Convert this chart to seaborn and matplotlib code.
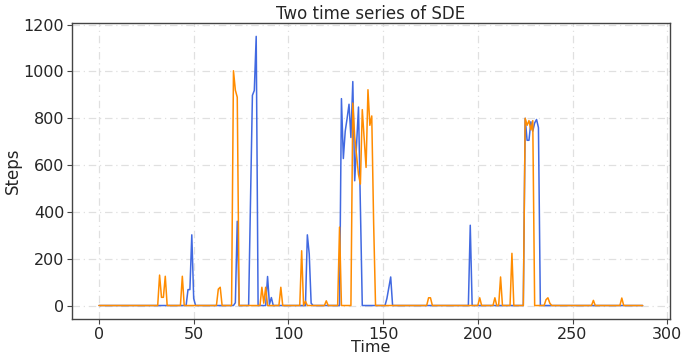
import numpy as np
import pandas as pd
import matplotlib
matplotlib.use("Agg")
import matplotlib.pyplot as plt
import seaborn as sns

# ---- data ----
n_steps = 288
blue_t = [47, 48, 49, 50, 72, 73, 80, 81, 82, 83, 89, 90, 91, 110, 111, 112,
          128, 129, 130, 131, 132, 133, 134, 135, 136, 137, 138,
          152, 153, 154, 196,
          225, 226, 227, 228, 229, 230, 231, 232]
blue_v = [68, 68, 302, 30, 12, 360, 450, 898, 919, 1150, 124, 5, 34, 302, 220, 10,
          884, 628, 745, 800, 860, 718, 957, 533, 690, 848, 420,
          30, 75, 122, 343,
          800, 706, 706, 785, 745, 780, 795, 760]
orange_t = [32, 33, 34, 35, 44, 63, 64, 71, 72, 73, 86, 87, 88, 96, 107, 109, 120, 127,
            134, 135, 136, 137, 138, 139, 140, 141, 142, 143, 144, 145,
            174, 175, 201, 209, 212, 218,
            225, 226, 227, 228, 229, 236, 237, 238, 261, 276]
orange_v = [130, 35, 35, 125, 125, 70, 78, 1003, 920, 890, 78, 10, 78, 78, 234, 18, 20, 335,
            865, 720, 640, 560, 519, 837, 715, 590, 922, 770, 810, 350,
            33, 33, 33, 33, 122, 223,
            800, 770, 790, 750, 790, 25, 33, 10, 22, 32]

time = np.arange(n_steps)
blue = np.zeros(n_steps)
blue[blue_t] = blue_v
orange = np.zeros(n_steps)
orange[orange_t] = orange_v
df = pd.DataFrame({"Time": time, "s1": blue, "s2": orange})

sns.set_style("ticks")
plt.rcParams['font.family'] = ['DejaVu Sans']

fig = plt.figure(figsize=(6.97, 3.58), dpi=100)
ax = fig.add_axes([0.103, 0.109, 0.858, 0.827])

sns.lineplot(data=df, x="Time", y="s1", color="#4169E1", linewidth=1.1, ax=ax)
sns.lineplot(data=df, x="Time", y="s2", color="#FF8C00", linewidth=1.1, ax=ax)

ax.set_xlim(-14.35, 301.35)
ax.set_ylim(-57.5, 1207.5)
ax.set_xticks([0, 50, 100, 150, 200, 250, 300])
ax.set_yticks([0, 200, 400, 600, 800, 1000, 1200])
ax.grid(True, linestyle=(0, (6, 3, 1, 3)), color="#e0e0e0", linewidth=0.9)
ax.set_axisbelow(True)
for s in ax.spines.values():
    s.set_visible(True)
    s.set_color("#444444")
    s.set_linewidth(1.0)
ax.tick_params(labelsize=11.5, direction="out", length=3.5, pad=2, color="#444444")
ax.set_xlabel("Time", fontsize=11.5, labelpad=-1)
ax.set_ylabel("Steps", fontsize=12, labelpad=1)
ax.set_title("Two time series of SDE", fontsize=12, pad=3)

fig.savefig("out.png", dpi=100)
